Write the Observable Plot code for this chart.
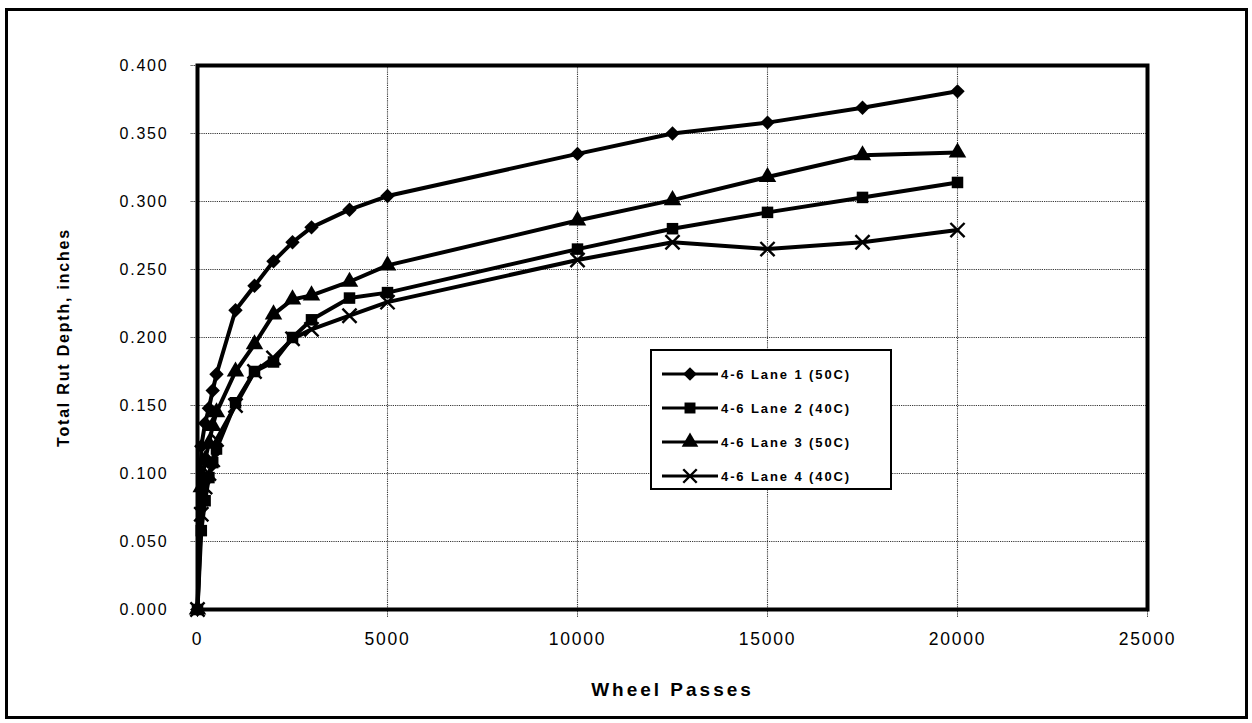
<!DOCTYPE html>
<html>
<head>
<meta charset="utf-8">
<script src="https://cdn.jsdelivr.net/npm/d3@7"></script>
<script src="https://cdn.jsdelivr.net/npm/@observablehq/plot@0.6"></script>
<style>
  html, body { margin: 0; padding: 0; background: #fff; }
  #wrap { position: relative; width: 1252px; height: 723px; overflow: hidden; font-family: "Liberation Sans", Arial, sans-serif; }
  #outer { position: absolute; left: 5px; top: 8px; right: 4px; bottom: 4px; border: 3px solid #000; box-sizing: border-box; pointer-events: none; }
  #chart svg { display: block; }
  #chart text { letter-spacing: 1.8px; }
  #chart [aria-label="y-axis label"] text, #chart [aria-label="x-axis label"] text { font-weight: bold; }
  #chart [aria-label="x-axis label"] text { letter-spacing: 3px; }
  #legend { position: absolute; border: 2px solid #000; background: #fff; box-sizing: border-box; padding: 6px 0 0 8px; }
  #legend .row { display: flex; align-items: center; height: 34px; }
  #legend .lbl { font-size: 13px; font-weight: bold; letter-spacing: 1.9px; margin-left: 1px; white-space: nowrap; }
</style>
</head>
<body>
<div id="wrap">
  <div id="chart"></div>
  <div id="legend"></div>
  <div id="outer"></div>
</div>
<script>
// Wheel passes at which rut depth was recorded
const passes = [0, 100, 200, 300, 400, 500, 1000, 1500, 2000, 2500, 3000, 4000, 5000, 10000, 12500, 15000, 17500, 20000];

// Total rut depth (inches) per lane
const lane1 = [0, 0.120, 0.137, 0.148, 0.161, 0.173, 0.220, 0.238, 0.256, 0.270, 0.281, 0.294, 0.304, 0.335, 0.350, 0.358, 0.369, 0.381];
const lane2 = [0, 0.058, 0.080, 0.097, 0.108, 0.118, 0.152, 0.175, 0.182, 0.200, 0.213, 0.229, 0.233, 0.265, 0.280, 0.292, 0.303, 0.314];
const lane3 = [0, 0.090, 0.110, 0.122, 0.135, 0.145, 0.175, 0.195, 0.217, 0.228, 0.231, 0.241, 0.253, 0.286, 0.301, 0.318, 0.334, 0.336];
const lane4 = [0, 0.070, 0.090, 0.100, 0.110, 0.125, 0.150, 0.175, 0.185, 0.199, 0.206, 0.216, 0.226, 0.257, 0.270, 0.265, 0.270, 0.279];

const seriesNames = ["4-6 Lane 1 (50C)", "4-6 Lane 2 (40C)", "4-6 Lane 3 (50C)", "4-6 Lane 4 (40C)"];
const seriesValues = [lane1, lane2, lane3, lane4];
const seriesSymbols = ["diamond2", "square", "triangle", "times"];

const xTicks = [0, 5000, 10000, 15000, 20000, 25000];
const yTicks = [0, 0.05, 0.10, 0.15, 0.20, 0.25, 0.30, 0.35, 0.40];

// Long-format table for the line and dot marks
const rows = seriesNames.flatMap((name, i) =>
  passes.map((p, j) => ({lane: name, passes: p, depth: seriesValues[i][j], symbol: seriesSymbols[i]}))
);
const filledRows = rows.filter(d => d.symbol !== "times");
const crossRows = rows.filter(d => d.symbol === "times");

const grid = {stroke: "#222", strokeOpacity: 0.9, strokeWidth: 1.1, strokeDasharray: "1.2,1"};

const chart = Plot.plot({
  width: 1252,
  height: 723,
  marginLeft: 197,
  marginRight: 105,
  marginTop: 65,
  marginBottom: 114,
  style: {fontFamily: "'Liberation Sans', Arial, sans-serif", fontSize: "16px", color: "#000", background: "transparent"},
  x: {domain: [0, 25000]},
  y: {domain: [0, 0.4]},
  symbol: {domain: seriesNames, range: seriesSymbols},
  marks: [
    Plot.gridY(yTicks, grid),
    Plot.gridX(xTicks, grid),
    Plot.axisY(yTicks, {
      tickFormat: d3.format(".3f"), tickSize: 7, tickPadding: 22,
      stroke: "#222", strokeDasharray: "1.2,1", fontSize: 16,
      label: "Total Rut Depth, inches", labelAnchor: "center", labelArrow: "none", labelOffset: 140
    }),
    Plot.axisX(xTicks, {
      tickFormat: d => String(d), tickSize: 8, tickPadding: 15,
      stroke: "#222", strokeDasharray: "1.2,1", fontSize: 17.5,
      label: "Wheel Passes", labelAnchor: "center", labelArrow: "none", labelOffset: 86
    }),
    Plot.line(rows, {x: "passes", y: "depth", z: "lane", stroke: "#000", strokeWidth: 4, curve: "linear"}),
    Plot.dot(filledRows, {x: "passes", y: "depth", symbol: "lane", fill: "#000", r: 6.5}),
    Plot.dot(crossRows, {x: "passes", y: "depth", symbol: "lane", stroke: "#000", strokeWidth: 2.4, r: 6.5}),
    Plot.frame({stroke: "#000", strokeWidth: 4})
  ]
});
document.getElementById("chart").appendChild(chart);

// Axis title sizes
d3.select(chart).select('[aria-label="y-axis label"]').selectAll("text").attr("font-size", 16);
d3.select(chart).select('[aria-label="x-axis label"]').selectAll("text").attr("font-size", 19);

// Legend box drawn over the plot area
const legend = d3.select("#legend")
  .style("left", "650px").style("top", "349px").style("width", "242px").style("height", "141px");
seriesNames.forEach((name, i) => {
  const row = legend.append("div").attr("class", "row");
  const svg = row.append("svg").attr("width", 60).attr("height", 20);
  svg.append("line").attr("x1", 2).attr("x2", 58).attr("y1", 10).attr("y2", 10)
    .attr("stroke", "#000").attr("stroke-width", 3.2);
  const sym = {diamond2: d3.symbolDiamond2, square: d3.symbolSquare, triangle: d3.symbolTriangle, times: d3.symbolTimes}[seriesSymbols[i]];
  const path = svg.append("path").attr("transform", "translate(30,10)")
    .attr("d", d3.symbol(sym, 120)());
  if (seriesSymbols[i] === "times") path.attr("fill", "none").attr("stroke", "#000").attr("stroke-width", 2.4);
  else path.attr("fill", "#000");
  row.append("span").attr("class", "lbl").text(name);
});
</script>
</body>
</html>
